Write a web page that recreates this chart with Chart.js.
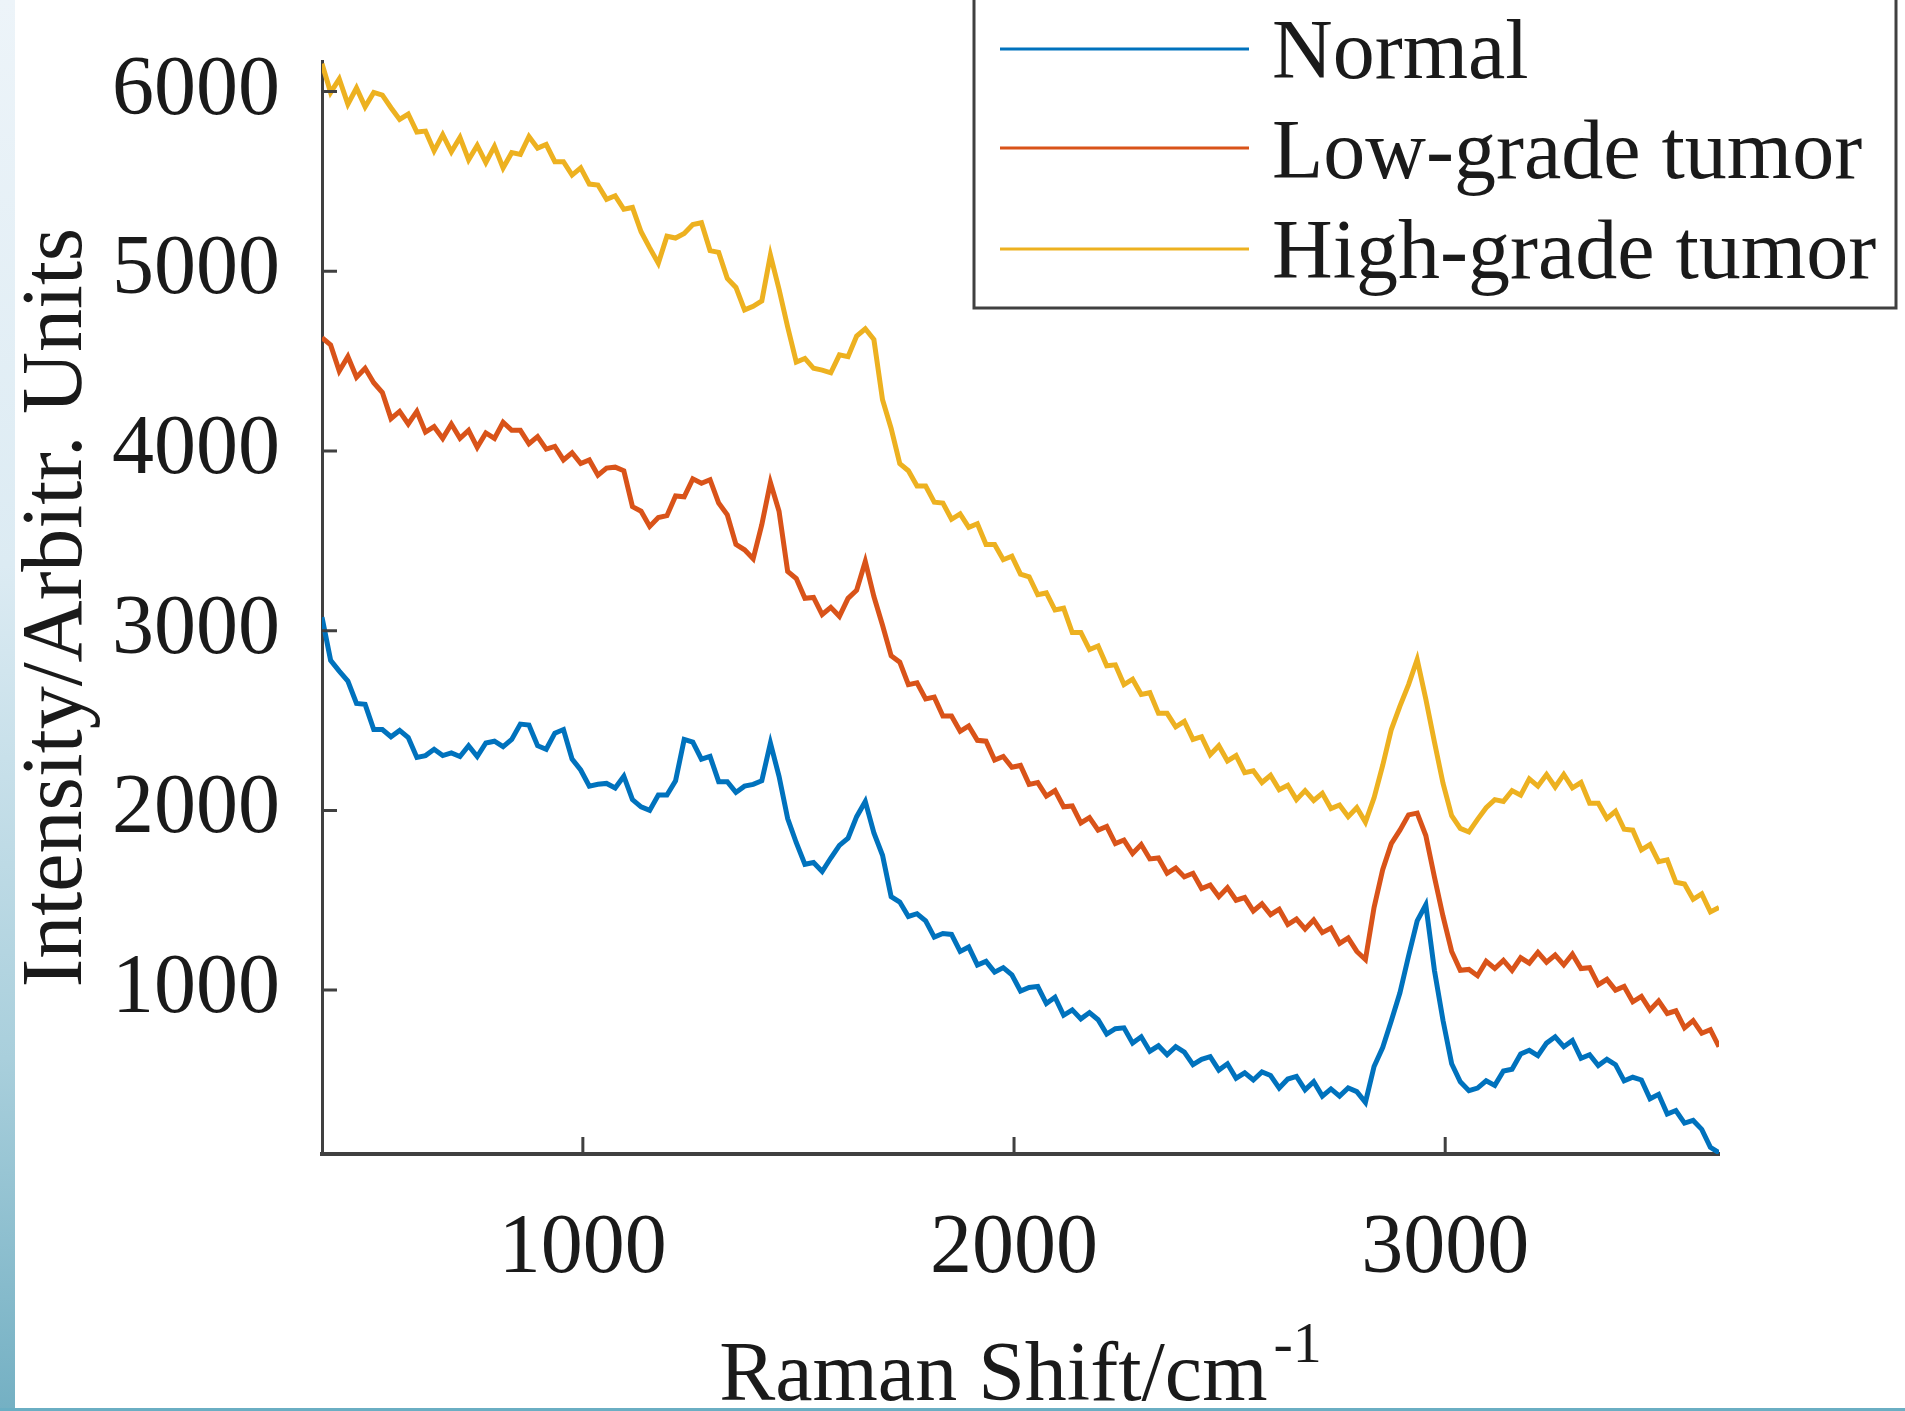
<!DOCTYPE html>
<html>
<head>
<meta charset="utf-8">
<title>Raman spectra</title>
<script src="https://cdn.jsdelivr.net/npm/chart.js@4.4.1/dist/chart.umd.min.js"></script>
<style>
    html, body { margin: 0; padding: 0; background: #ffffff; }
    #wrap { position: relative; width: 1905px; height: 1411px; overflow: hidden; background: #ffffff; }
    #strip-left { position: absolute; left: 0; top: 0; width: 15px; height: 1411px;
        background: linear-gradient(to bottom, #edf4f9 0%, #dcebf3 40%, #a9cfdc 75%, #74b0c3 100%); }
    #strip-bottom { position: absolute; left: 0; bottom: 0; width: 1905px; height: 3px; background: #6aaec3; }
    #chart { position: absolute; left: 0; top: 0; }
</style>
</head>
<body>
<div id="wrap">
    <div id="strip-left"></div>
    <div id="strip-bottom"></div>
    <canvas id="chart" width="1905" height="1411"></canvas>
</div>
<script>
// Raman shift (cm-1) sample positions
const ramanShift = [
    395, 415, 435, 455, 475, 495, 515, 535, 555, 575,
    595, 615, 635, 655, 675, 695, 715, 735, 755, 775,
    795, 815, 835, 855, 875, 895, 915, 935, 955, 975,
    995, 1015, 1035, 1055, 1075, 1095, 1115, 1135, 1155, 1175,
    1195, 1215, 1235, 1255, 1275, 1295, 1315, 1335, 1355, 1375,
    1395, 1415, 1435, 1455, 1475, 1495, 1515, 1535, 1555, 1575,
    1595, 1615, 1635, 1655, 1675, 1695, 1715, 1735, 1755, 1775,
    1795, 1815, 1835, 1855, 1875, 1895, 1915, 1935, 1955, 1975,
    1995, 2015, 2035, 2055, 2075, 2095, 2115, 2135, 2155, 2175,
    2195, 2215, 2235, 2255, 2275, 2295, 2315, 2335, 2355, 2375,
    2395, 2415, 2435, 2455, 2475, 2495, 2515, 2535, 2555, 2575,
    2595, 2615, 2635, 2655, 2675, 2695, 2715, 2735, 2755, 2775,
    2795, 2815, 2835, 2855, 2875, 2895, 2915, 2935, 2955, 2975,
    2995, 3015, 3035, 3055, 3075, 3095, 3115, 3135, 3155, 3175,
    3195, 3215, 3235, 3255, 3275, 3295, 3315, 3335, 3355, 3375,
    3395, 3415, 3435, 3455, 3475, 3495, 3515, 3535, 3555, 3575,
    3595, 3615, 3635
];

const normal = [
    3075, 2835, 2775, 2720, 2595, 2590, 2450, 2450, 2410, 2445,
    2405, 2295, 2305, 2340, 2305, 2320, 2300, 2360, 2300, 2375,
    2385, 2355, 2395, 2480, 2475, 2360, 2340, 2430, 2450, 2285,
    2225, 2135, 2145, 2150, 2125, 2190, 2060, 2020, 2000, 2085,
    2085, 2165, 2395, 2380, 2285, 2300, 2160, 2160, 2100, 2135,
    2145, 2165, 2375, 2190, 1955, 1820, 1700, 1710, 1660, 1735,
    1805, 1845, 1965, 2050, 1875, 1750, 1520, 1490, 1410, 1425,
    1385, 1295, 1315, 1310, 1215, 1240, 1140, 1160, 1100, 1125,
    1085, 995, 1015, 1020, 925, 960, 860, 890, 840, 875,
    835, 755, 785, 790, 705, 740, 660, 690, 640, 685,
    655, 585, 615, 630, 555, 590, 510, 540, 500, 545,
    525, 455, 505, 520, 445, 490, 410, 450, 410, 455,
    435, 375, 575, 680, 830, 985, 1190, 1385, 1475, 1110,
    830, 590, 490, 440, 455, 495, 470, 550, 560, 645,
    665, 635, 705, 740, 685, 720, 620, 640, 580, 615,
    585, 495, 515, 500, 395, 420, 310, 330, 260, 275,
    225, 125, 95
];

const lowGrade = [
    4630, 4590, 4445, 4525, 4410, 4460, 4380, 4325, 4180, 4220,
    4150, 4220, 4105, 4135, 4070, 4150, 4070, 4115, 4020, 4100,
    4070, 4160, 4115, 4115, 4040, 4080, 4010, 4025, 3950, 3990,
    3930, 3950, 3865, 3905, 3910, 3890, 3690, 3665, 3580, 3630,
    3640, 3750, 3745, 3845, 3820, 3840, 3710, 3645, 3480, 3450,
    3400, 3590, 3825, 3665, 3330, 3290, 3180, 3185, 3090, 3130,
    3080, 3180, 3225, 3385, 3190, 3030, 2860, 2825, 2700, 2710,
    2620, 2630, 2525, 2525, 2440, 2470, 2390, 2385, 2280, 2300,
    2240, 2250, 2145, 2155, 2080, 2110, 2020, 2025, 1930, 1960,
    1890, 1910, 1815, 1835, 1760, 1810, 1730, 1735, 1650, 1680,
    1630, 1650, 1565, 1585, 1520, 1570, 1500, 1515, 1440, 1480,
    1420, 1450, 1365, 1395, 1340, 1390, 1320, 1345, 1260, 1290,
    1215, 1170, 1460, 1670, 1815, 1890, 1975, 1985, 1860, 1630,
    1410, 1215, 1110, 1115, 1080, 1160, 1120, 1165, 1110, 1180,
    1150, 1210, 1155, 1195, 1140, 1200, 1120, 1125, 1030, 1060,
    1000, 1020, 935, 965, 890, 940, 870, 885, 790, 830,
    760, 780, 685
];

const highGrade = [
    6155, 5995, 6070, 5930, 6020, 5915, 5995, 5980, 5910, 5845,
    5875, 5775, 5780, 5670, 5760, 5665, 5745, 5620, 5700, 5605,
    5695, 5575, 5660, 5650, 5750, 5685, 5705, 5610, 5610, 5535,
    5575, 5485, 5480, 5400, 5420, 5345, 5355, 5220, 5130, 5045,
    5195, 5185, 5210, 5260, 5270, 5115, 5105, 4960, 4910, 4785,
    4805, 4835, 5090, 4900, 4690, 4495, 4515, 4460, 4450, 4435,
    4535, 4525, 4640, 4680, 4620, 4285, 4125, 3930, 3890, 3805,
    3805, 3715, 3710, 3620, 3650, 3575, 3595, 3480, 3480, 3395,
    3415, 3315, 3300, 3200, 3210, 3115, 3125, 2990, 2990, 2895,
    2915, 2805, 2810, 2700, 2730, 2645, 2655, 2540, 2540, 2465,
    2495, 2395, 2410, 2310, 2360, 2275, 2305, 2210, 2220, 2155,
    2195, 2115, 2140, 2060, 2110, 2055, 2095, 2010, 2030, 1965,
    2015, 1935, 2070, 2250, 2450, 2580, 2700, 2840, 2620, 2380,
    2150, 1970, 1900, 1880, 1950, 2015, 2060, 2050, 2110, 2085,
    2175, 2135, 2200, 2130, 2200, 2125, 2155, 2040, 2040, 1955,
    1995, 1895, 1890, 1780, 1810, 1715, 1725, 1600, 1590, 1505,
    1535, 1435, 1460
];

const seriesNames = ['Normal', 'Low-grade tumor', 'High-grade tumor'];
const seriesColors = ['#0072BD', '#D95319', '#EDB120'];
const xTicks = [1000, 2000, 3000];
const yTicks = [1000, 2000, 3000, 4000, 5000, 6000];

const serif = "'Liberation Serif', 'Times New Roman', serif";
const axisColor = '#404040';
const textColor = '#1a1a1a';

function toPoints(values) {
    return ramanShift.map((x, i) => ({ x: x, y: values[i] }));
}

// inward tick marks like the MATLAB axes
const tickMarks = {
    id: 'tickMarks',
    afterDatasetsDraw(chart) {
        const { ctx, chartArea, scales } = chart;
        ctx.save();
        ctx.strokeStyle = axisColor;
        ctx.lineWidth = 3;
        ctx.beginPath();
        scales.x.ticks.forEach(t => {
            const px = scales.x.getPixelForValue(t.value);
            ctx.moveTo(px, chartArea.bottom);
            ctx.lineTo(px, chartArea.bottom - 17);
        });
        scales.y.ticks.forEach(t => {
            const py = scales.y.getPixelForValue(t.value);
            ctx.moveTo(chartArea.left, py);
            ctx.lineTo(chartArea.left + 15, py);
        });
        ctx.stroke();
        ctx.restore();
    }
};

// x title with superscript
const xTitle = {
    id: 'xTitle',
    afterDraw(chart) {
        const { ctx, chartArea } = chart;
        const main = 'Raman Shift/cm';
        const sup = '-1';
        ctx.save();
        ctx.fillStyle = textColor;
        ctx.textBaseline = 'alphabetic';
        ctx.font = '84px ' + serif;
        const w1 = ctx.measureText(main).width;
        ctx.font = '58px ' + serif;
        const w2 = ctx.measureText(sup).width;
        const cx = (chartArea.left + chartArea.right) / 2;
        const x0 = cx - (w1 + w2 + 6) / 2;
        ctx.font = '84px ' + serif;
        ctx.fillText(main, x0, 1400);
        ctx.font = '58px ' + serif;
        ctx.fillText(sup, x0 + w1 + 6, 1362);
        ctx.restore();
    }
};

// boxed legend at top right
const boxLegend = {
    id: 'boxLegend',
    afterDraw(chart) {
        const { ctx } = chart;
        ctx.save();
        ctx.fillStyle = '#ffffff';
        ctx.fillRect(974, -10, 922, 318);
        ctx.strokeStyle = axisColor;
        ctx.lineWidth = 3;
        ctx.strokeRect(974, -10, 922, 318);
        const lineY = [49, 148, 249];
        const baseY = [78, 178, 278];
        chart.data.datasets.forEach((ds, i) => {
            ctx.strokeStyle = ds.borderColor;
            ctx.lineWidth = 3;
            ctx.beginPath();
            ctx.moveTo(1000, lineY[i]);
            ctx.lineTo(1249, lineY[i]);
            ctx.stroke();
            ctx.fillStyle = textColor;
            ctx.font = '84px ' + serif;
            ctx.textBaseline = 'alphabetic';
            ctx.fillText(ds.label, 1272, baseY[i]);
        });
        ctx.restore();
    }
};

const ctx = document.getElementById('chart').getContext('2d');
new Chart(ctx, {
    type: 'line',
    data: {
        datasets: [
            { label: seriesNames[0], data: toPoints(normal), borderColor: seriesColors[0] },
            { label: seriesNames[1], data: toPoints(lowGrade), borderColor: seriesColors[1] },
            { label: seriesNames[2], data: toPoints(highGrade), borderColor: seriesColors[2] }
        ].map(ds => Object.assign(ds, { borderWidth: 5, pointRadius: 0, tension: 0, fill: false }))
    },
    options: {
        responsive: false,
        animation: false,
        layout: { padding: { top: 61, right: 186, left: 0, bottom: 0 } },
        plugins: {
            legend: { display: false },
            tooltip: { enabled: false }
        },
        scales: {
            x: {
                type: 'linear',
                min: 395,
                max: 3635,
                grid: { display: false },
                border: { display: true, color: axisColor, width: 4 },
                afterBuildTicks: s => { s.ticks = xTicks.map(v => ({ value: v })); },
                afterFit: s => { s.height = 1411 - 1154; s.paddingLeft = 0; s.paddingRight = 0; },
                ticks: {
                    color: textColor,
                    font: { family: serif, size: 84 },
                    padding: 38,
                    maxRotation: 0,
                    callback: v => String(v)
                }
            },
            y: {
                min: 88,
                max: 6170,
                grid: { display: false },
                border: { display: true, color: axisColor, width: 3 },
                afterBuildTicks: s => { s.ticks = yTicks.map(v => ({ value: v })); },
                afterFit: s => { s.width = 322; s.paddingTop = 0; s.paddingBottom = 0; },
                ticks: {
                    color: textColor,
                    font: { family: serif, size: 84 },
                    padding: 34,
                    callback: v => String(v)
                },
                title: {
                    display: true,
                    text: 'Intensity/Arbitr. Units',
                    color: textColor,
                    font: { family: serif, size: 86 },
                    padding: { top: 7, bottom: 0 }
                }
            }
        }
    },
    plugins: [tickMarks, xTitle, boxLegend]
});
</script>
</body>
</html>
